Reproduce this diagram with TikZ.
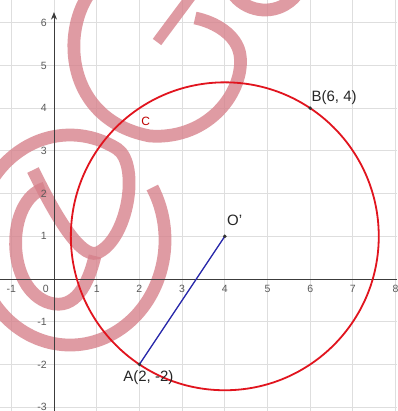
\documentclass[tikz,border=0pt]{standalone}
\usepackage{fontspec}
\setmainfont{Liberation Sans}
\usetikzlibrary{arrows.meta}
\definecolor{wm}{RGB}{214,128,138}
\definecolor{gridc}{RGB}{222,222,222}
\definecolor{circred}{RGB}{225,20,30}
\definecolor{segblue}{RGB}{40,40,170}
\definecolor{axisc}{RGB}{60,60,60}
\definecolor{tickc}{RGB}{90,90,90}
\begin{document}
\begin{tikzpicture}[
  gridline/.style={draw=gridc, line width=0.6pt},
  axisline/.style={draw=axisc, line width=0.6pt},
  wmstroke/.style={draw=wm, line width=8.5pt, opacity=0.78, line cap=butt},
  circ/.style={draw=circred, line width=1.2pt},
  seg/.style={draw=segblue, line width=0.9pt},
  ptdot/.style={circle, fill=black!80, inner sep=0pt, minimum size=2.6pt},
  ticklab/.style={font=\fontsize{7}{8}\selectfont, text=tickc, inner sep=1pt},
  ptlab/.style={font=\fontsize{10}{11}\selectfont, text=black!85, inner sep=0pt}
]
\useasboundingbox (-1.2646,-3.0913) rectangle (8.0328,6.5339);
\fill[white] (-1.2646,-3.0913) rectangle (8.0328,6.5339);
\draw[gridline] (-1.2646,-3.0913) grid (8.0328,6.5339);

% watermark (pixel coordinates)
\begin{scope}[x=0.023419cm, y=-0.023419cm, shift={(-1.26463cm,6.53390cm)}]
  \draw[wmstroke] (70,240) ++(-30:95 and 105)
    arc[start angle=-30, end angle=300, x radius=95, y radius=105]
    .. controls (140,165) and (128,240) .. (97,253)
    .. controls (80,258) and (55,215) .. (33,170);
  \draw[wmstroke] (45,188) .. controls (5,200) and (5,290) .. (50,303)
    .. controls (75,310) and (88,285) .. (95,256);
  \draw[wmstroke] (92,-10) .. controls (60,30) and (65,120) .. (150,136)
    .. controls (210,140) and (245,90) .. (240,55)
    .. controls (237,35) and (215,22) .. (195,18);
  \draw[wmstroke, line width=7pt] (157,42) -- (192,-5);
  \draw[wmstroke] (265,-30) ++(150:40) arc[start angle=150, end angle=30, radius=40];
\end{scope}

% axes
\draw[axisline] (-1.2646,0) -- (8.0328,0);
\draw[axisline, -{Stealth[length=5pt, width=4pt]}] (0,-3.0913) -- (0,6.25);

% tick labels
\foreach \v in {-1,1,2,3,4,5,6,7,8}
  \node[ticklab] (xl\v) at (\v,-0.24) {\v};
\node[ticklab] (xl0) at (-0.19,-0.24) {0};
\foreach \v in {-3,-2,-1,1,2,3,4,5,6}
  \node[ticklab, anchor=east] (yl\v) at (-0.13,\v) {\v};

% geometry
\coordinate (A) at (2,-2);
\coordinate (O) at (4,1);
\coordinate (B) at (6,4);
\draw[circ] (O) circle ({sqrt(13)});
\draw[seg] (A) -- (O);
\node[ptdot] (Ad) at (A) {};
\node[ptdot] (Od) at (O) {};
\node[ptdot] (Bd) at (B) {};

\node[ptlab] (Alab) at (2.21,-2.32) {A(2, -2)};
\node[ptlab] (Olab) at (4.23,1.38) {O'};
\node[ptlab] (Blab) at (6.56,4.24) {B(6, 4)};
\node[font=\fontsize{8}{9}\selectfont, text=red!75!black, inner sep=0pt] (Clab) at (2.15,3.70) {C};
\end{tikzpicture}
\end{document}
